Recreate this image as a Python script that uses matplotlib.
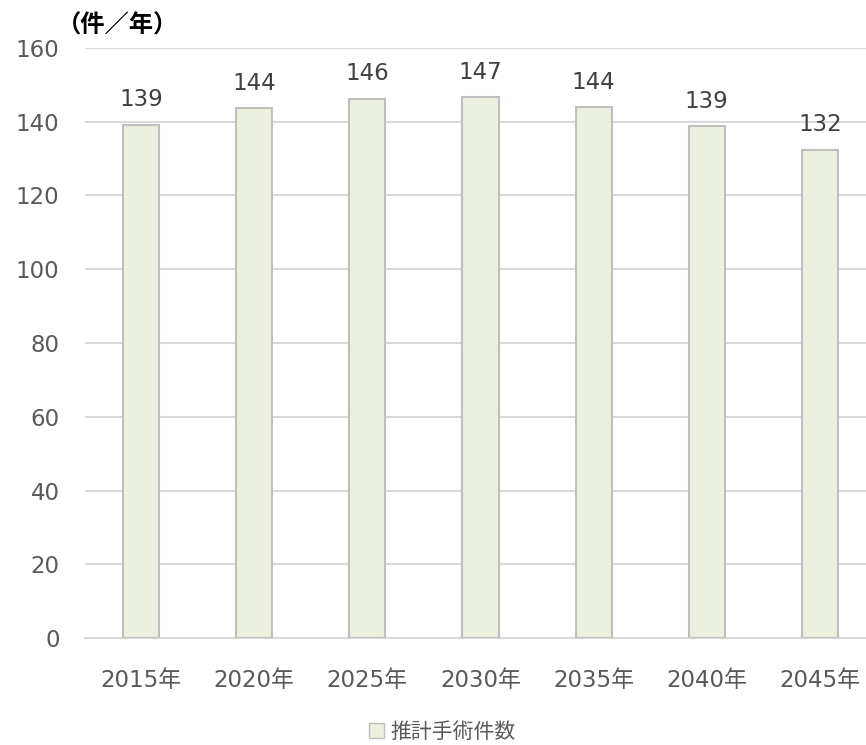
import matplotlib
matplotlib.use("Agg")
import matplotlib.pyplot as plt
from matplotlib.patches import Patch

plt.rcParams['font.family'] = ['DejaVu Sans', 'Noto Sans CJK JP']

years = ["2015年", "2020年", "2025年", "2030年", "2035年", "2040年", "2045年"]
values = [139.2, 143.7, 146.3, 146.6, 144.0, 138.9, 132.4]
series_name = "推計手術件数"
unit_label = "（件／年）"

fig = plt.figure(figsize=(8.66, 7.45), dpi=100)
ax = fig.add_axes([0.0976, 0.1436, 0.9145, 0.792])

x = range(len(years))
bars = ax.bar(x, values, width=0.32, color="#ebf1de", edgecolor="#bfbfbf", linewidth=1.5, zorder=3)

for xi, v in zip(x, values):
    ax.text(xi, v + 3.6, f"{v:.0f}", ha="center", va="bottom", fontsize=16.5, color="#404040")

ax.set_xlim(-0.5, len(years) - 0.5)
ax.set_ylim(0, 160)
ax.set_yticks(range(0, 161, 20))
ax.set_xticks(list(x))
ax.set_xticklabels(years)
ax.tick_params(axis="both", length=0, labelsize=16.5, labelcolor="#595959")
ax.tick_params(axis="x", pad=22)
ax.tick_params(axis="y", pad=18)
ax.grid(axis="y", color="#d9d9d9", linewidth=1.5, zorder=0)
for s in ["top", "right", "left"]:
    ax.spines[s].set_visible(False)
ax.spines["bottom"].set_color("#d9d9d9")
ax.spines["bottom"].set_linewidth(1.5)

fig.text(0.066, 0.966, unit_label, fontsize=17.5, fontweight="bold", color="black",
         family=["Noto Sans CJK JP"], ha="left", va="center")

handle = Patch(facecolor="#ebf1de", edgecolor="#bfbfbf")
fig.legend([handle], [series_name], loc="center", bbox_to_anchor=(0.511, 0.018),
           frameon=False, handlelength=0.7, handleheight=0.7, borderpad=0.2,
           handletextpad=0.3, labelcolor="#595959", prop={"family": ["Noto Sans CJK JP"], "size": 15})

fig.savefig("out.png", dpi=100)
